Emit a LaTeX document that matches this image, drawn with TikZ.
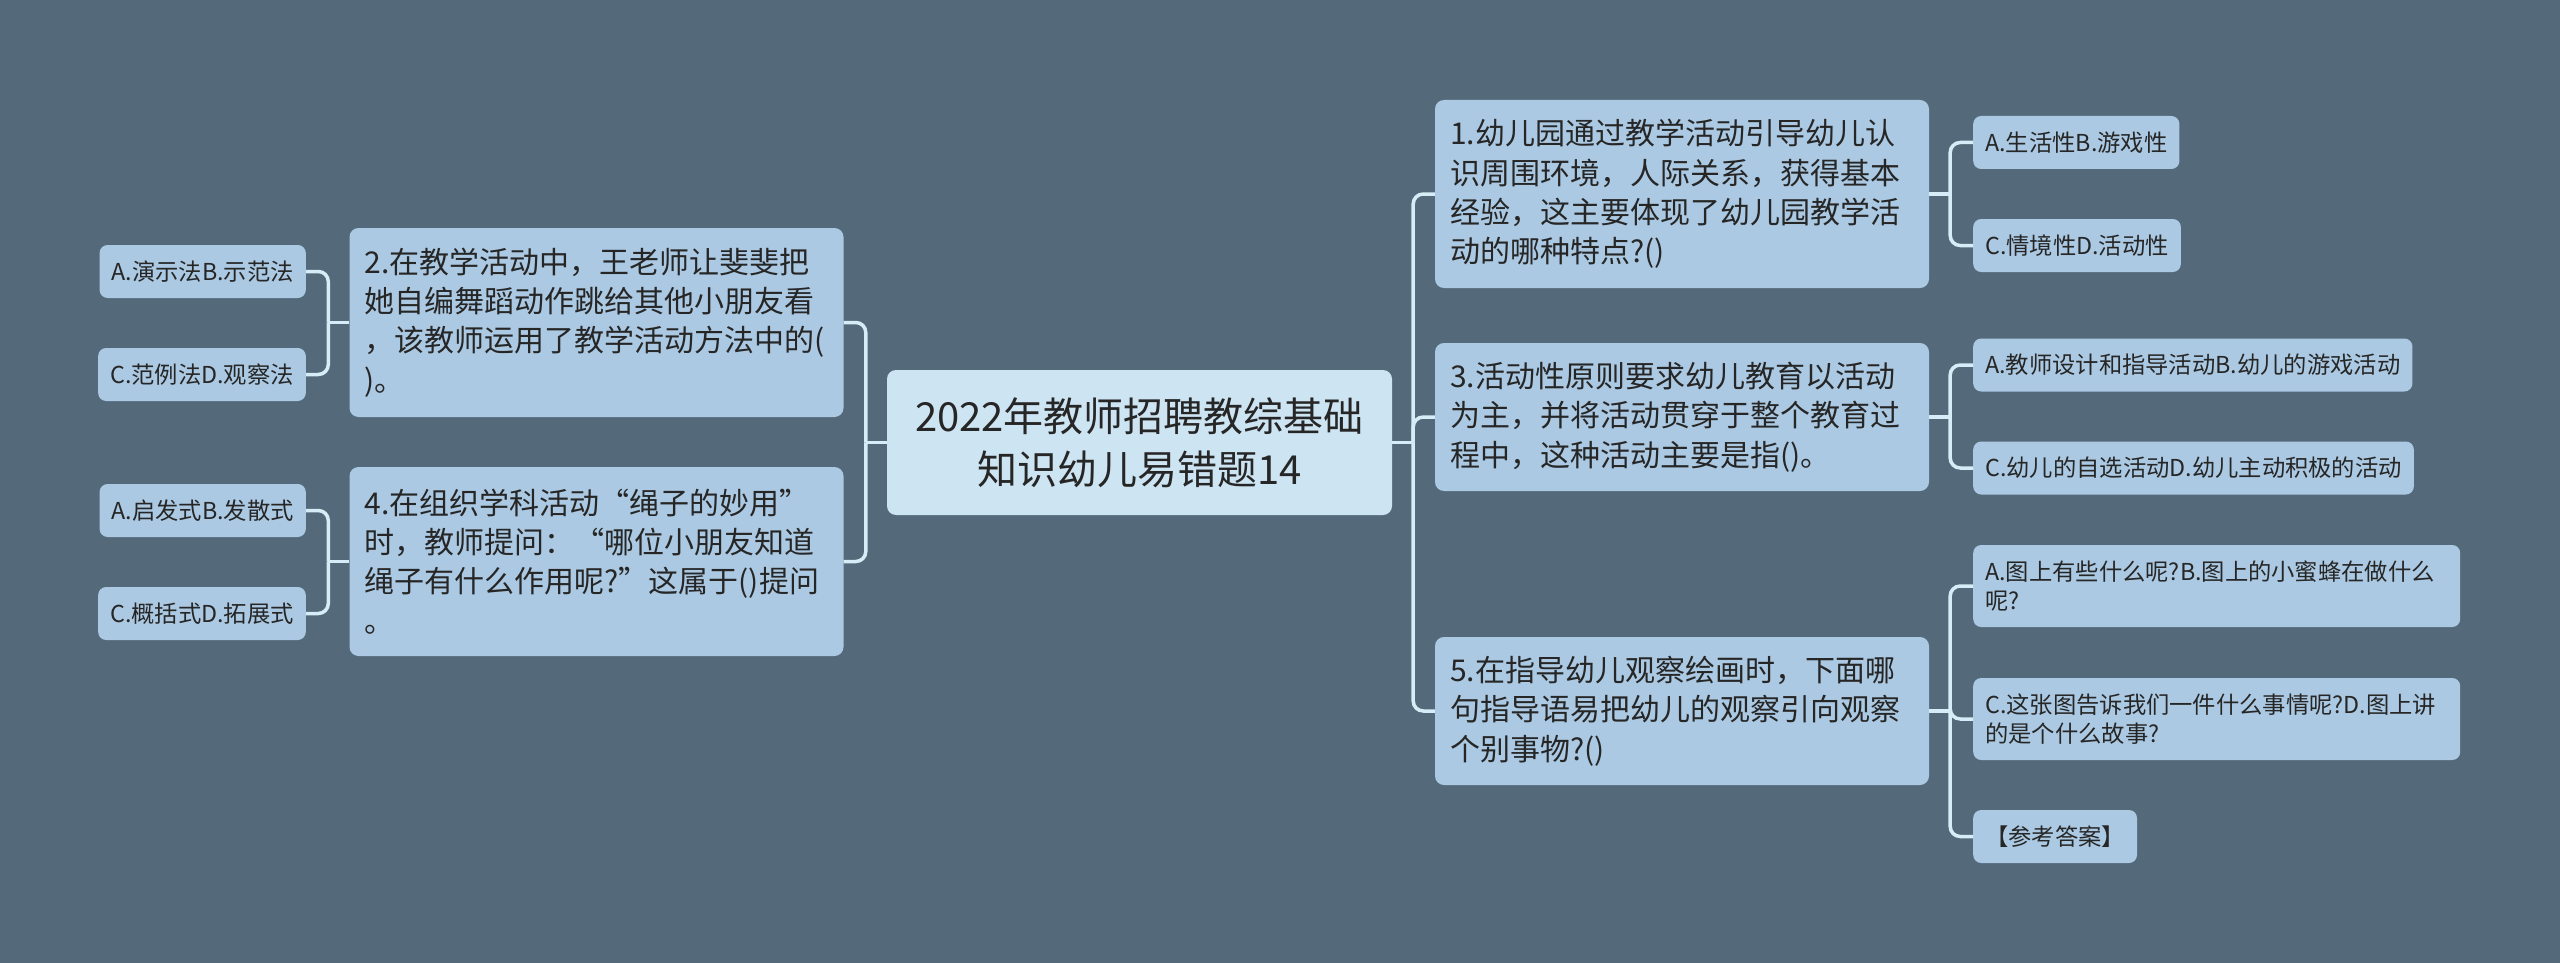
\documentclass[tikz,border=0pt]{standalone}
\usepackage{fontspec}
\setmainfont{Noto Sans CJK SC}
\definecolor{bgc}{HTML}{546A7A}
\definecolor{nodec}{HTML}{ABC9E2}
\definecolor{rootc}{HTML}{CDE4F2}
\definecolor{connc}{HTML}{D6ECF6}
\definecolor{txtc}{HTML}{262626}
\begin{document}
\begin{tikzpicture}[x=1pt,y=-1pt,
  rootbox/.style={rectangle, rounded corners=9pt, fill=rootc, text=txtc, inner sep=0pt,
    minimum width=505pt, minimum height=145pt, align=center,
    font=\fontsize{40}{53}\selectfont},
  box/.style={rectangle, rounded corners=9pt, fill=nodec, text=txtc, inner ysep=0pt, inner xsep=15pt,
    text width=464pt, align=left, font=\fontsize{30}{39.3}\selectfont},
  leaf/.style={rectangle, rounded corners=8pt, fill=nodec, text=txtc, inner ysep=0pt, inner xsep=12pt,
    minimum height=53pt, align=left, font=\fontsize{23.3}{28.3}\selectfont},
  conn/.style={draw=connc, line width=3.5pt, rounded corners=10pt}]
\fill[bgc] (0,0) rectangle (2560,963);
\useasboundingbox (0,0) rectangle (2560,963);

% root
\node[rootbox] (root) at (1139.5,442.5) {2022年教师招聘教综基础\\知识幼儿易错题14};

% main nodes right
\node[box, minimum height=188pt] (n1) at (1682,194) {1.幼儿园通过教学活动引导幼儿认\\识周围环境，人际关系，获得基本\\经验，这主要体现了幼儿园教学活\\动的哪种特点?()};
\node[box, minimum height=148pt] (n3) at (1682,417) {3.活动性原则要求幼儿教育以活动\\为主，并将活动贯穿于整个教育过\\程中，这种活动主要是指()。};
\node[box, minimum height=148pt] (n5) at (1682,711) {5.在指导幼儿观察绘画时，下面哪\\句指导语易把幼儿的观察引向观察\\个别事物?()};

% main nodes left
\node[box, minimum height=189pt] (n2) at (596.5,322.5) {2.在教学活动中，王老师让斐斐把\\她自编舞蹈动作跳给其他小朋友看\\，该教师运用了教学活动方法中的(\\)。};
\node[box, minimum height=189pt] (n4) at (596.5,561.5) {4.在组织学科活动“绳子的妙用”\\时，教师提问：“哪位小朋友知道\\绳子有什么作用呢?”这属于()提问\\。};

% right leaves
\node[leaf, anchor=west] (a1) at (1973,142.5) {A.生活性B.游戏性};
\node[leaf, anchor=west] (c1) at (1973,245.5) {C.情境性D.活动性};
\node[leaf, anchor=west] (a3) at (1973,365) {A.教师设计和指导活动B.幼儿的游戏活动};
\node[leaf, anchor=west] (c3) at (1973,468) {C.幼儿的自选活动D.幼儿主动积极的活动};
\node[leaf, anchor=west, minimum height=82pt, text width=463pt] (a5) at (1973,586) {A.图上有些什么呢?B.图上的小蜜蜂在做什么\\呢?};
\node[leaf, anchor=west, minimum height=82pt, text width=463pt] (c5) at (1973,719) {C.这张图告诉我们一件什么事情呢?D.图上讲\\的是个什么故事?};
\node[leaf, anchor=west] (k5) at (1973,836.5) {【参考答案】};

% left leaves
\node[leaf, anchor=east] (a2) at (306,271.5) {A.演示法B.示范法};
\node[leaf, anchor=east] (c2) at (306,374.5) {C.范例法D.观察法};
\node[leaf, anchor=east] (a4) at (306,510.5) {A.启发式B.发散式};
\node[leaf, anchor=east] (c4) at (306,613.5) {C.概括式D.拓展式};

% junctions
\coordinate (jR) at ([xshift=21pt]root.east);
\coordinate (jL) at ([xshift=-21pt]root.west);
\coordinate (j1) at ([xshift=21pt]n1.east);
\coordinate (j3) at ([xshift=21pt]n3.east);
\coordinate (j5) at ([xshift=21pt]n5.east);
\coordinate (j2) at ([xshift=-21pt]n2.west);
\coordinate (j4) at ([xshift=-21pt]n4.west);

% connectors root
\draw[conn] (root.east) -- (jR);
\draw[conn] (jR) |- (n1.west);
\draw[conn] (jR) |- (n3.west);
\draw[conn] (jR) |- (n5.west);
\draw[conn] (root.west) -- (jL);
\draw[conn] (jL) |- (n2.east);
\draw[conn] (jL) |- (n4.east);

% connectors leaves
\draw[conn] (n1.east) -- (j1);
\draw[conn] (j1) |- (a1.west);
\draw[conn] (j1) |- (c1.west);
\draw[conn] (n3.east) -- (j3);
\draw[conn] (j3) |- (a3.west);
\draw[conn] (j3) |- (c3.west);
\draw[conn] (n5.east) -- (j5);
\draw[conn] (j5) |- (a5.west);
\draw[conn] (j5) |- (c5.west);
\draw[conn] (j5) |- (k5.west);
\draw[conn] (n2.west) -- (j2);
\draw[conn] (j2) |- (a2.east);
\draw[conn] (j2) |- (c2.east);
\draw[conn] (n4.west) -- (j4);
\draw[conn] (j4) |- (a4.east);
\draw[conn] (j4) |- (c4.east);
\end{tikzpicture}
\end{document}
